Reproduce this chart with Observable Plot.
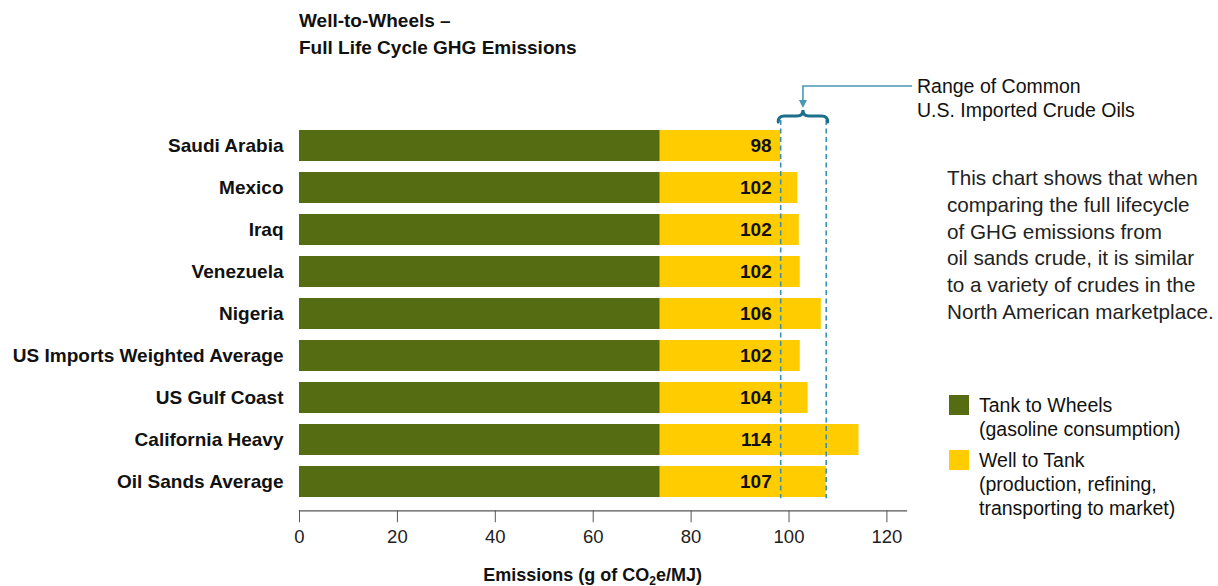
<!DOCTYPE html>
<html>
<head>
<meta charset="utf-8">
<script src="https://cdn.jsdelivr.net/npm/d3@7"></script>
<script src="https://cdn.jsdelivr.net/npm/@observablehq/plot@0.6"></script>
<style>
  html, body { margin: 0; padding: 0; background: #fff; }
  #chart { width: 1218px; height: 586px; }
  svg text { font-family: "Liberation Sans", Arial, Helvetica, sans-serif; }
</style>
</head>
<body>
<div id="chart"></div>
<script>
// ---- data ----
const categories = ["Saudi Arabia", "Mexico", "Iraq", "Venezuela", "Nigeria",
  "US Imports Weighted Average", "US Gulf Coast", "California Heavy", "Oil Sands Average"];
const tankToWheels = [73.7, 73.7, 73.7, 73.7, 73.7, 73.7, 73.7, 73.7, 73.7];
const totals = [98.3, 101.8, 102.1, 102.3, 106.6, 102.3, 103.9, 114.3, 107.6];
const totalLabels = ["98", "102", "102", "102", "106", "102", "104", "114", "107"];
const segments = ["Tank to Wheels", "Well to Tank"];
const segmentNotes = ["(gasoline consumption)", "(production, refining,|transporting to market)"];
const segmentColors = ["#566c13", "#ffcc00"];
const rangeBounds = [98.3, 107.6];
const xTicks = [0, 20, 40, 60, 80, 100, 120];
const titleLines = ["Well-to-Wheels –", "Full Life Cycle GHG Emissions"];
const rangeNote = ["Range of Common", "U.S. Imported Crude Oils"];
const paragraph = ["This chart shows that when", "comparing the full lifecycle",
  "of GHG emissions from", "oil sands crude, it is similar",
  "to a variety of crudes in the", "North American marketplace."];

// ---- table for the library ----
const rows = [];
categories.forEach((c, i) => {
  rows.push({category: c, segment: segments[0], value: tankToWheels[i]});
  rows.push({category: c, segment: segments[1], value: totals[i] - tankToWheels[i]});
});
const labels = categories.map((c, i) => ({category: c, label: totalLabels[i]}));

const W = 1218, H = 586;
const svg = Plot.plot({
  width: W, height: H,
  marginLeft: 299, marginRight: 312, marginTop: 116, marginBottom: 75.7,
  style: {fontFamily: "'Liberation Sans', Arial, sans-serif", background: "transparent", overflow: "visible"},
  x: {domain: [0, 124]},
  y: {domain: categories, range: [122.3, 503.7], paddingInner: 0.268, paddingOuter: 0.134},
  color: {domain: segments, range: segmentColors},
  marks: [
    Plot.barX(rows, {x: "value", y: "category", fill: "segment"}),
    Plot.ruleX(rangeBounds, {stroke: "#3b8fb0", strokeWidth: 1.6, strokeDasharray: "5,3.5", insetTop: 4, insetBottom: 12}),
    Plot.text(labels, {x: () => rangeBounds[0], y: "category", text: "label", dx: -9, textAnchor: "end",
      fontSize: 19, fontWeight: "bold", fill: "#111"}),
    Plot.axisY({tickSize: 0, tickPadding: 16, fontSize: 19, fontWeight: "bold", fill: "#111", label: null}),
    Plot.axisX({ticks: xTicks, tickSize: 12, tickPadding: 7, fontSize: 18.5, stroke: "#555", fill: "#222", label: null}),
    Plot.frame({anchor: "bottom", stroke: "#555", strokeWidth: 1.3})
  ]
});
document.getElementById("chart").appendChild(svg);

// ---- annotations using the library's scales ----
const xs = svg.scale("x");
const X = v => xs.apply(v);
const g = d3.select(svg).append("g").attr("text-anchor", "start");
const font = "'Liberation Sans', Arial, sans-serif";
const addText = (x, y, size, weight, fill, t) =>
  g.append("text").attr("x", x).attr("y", y).attr("font-size", size).attr("font-weight", weight)
    .attr("fill", fill).attr("font-family", font).attr("text-anchor", "start").text(t);

// title
titleLines.forEach((t, i) => addText(X(0), 27 + i * 27, 19, "bold", "#111", t));

// brace over the range
const bx0 = X(rangeBounds[0]) - 2, bx1 = X(rangeBounds[1]) + 2, mid = (X(rangeBounds[0]) + X(rangeBounds[1])) / 2, yb = 116;
g.append("path")
  .attr("d", `M${bx0},${yb + 6} Q${bx0},${yb} ${bx0 + 6},${yb} L${mid - 6},${yb} Q${mid},${yb} ${mid},${yb - 6} Q${mid},${yb} ${mid + 6},${yb} L${bx1 - 6},${yb} Q${bx1},${yb} ${bx1},${yb + 6}`)
  .attr("fill", "none").attr("stroke", "#1d6f8c").attr("stroke-width", 3).attr("stroke-linecap", "round");

// leader arrow
g.append("path").attr("d", `M912,86 L${mid},86 L${mid},102`)
  .attr("fill", "none").attr("stroke", "#4a98b4").attr("stroke-width", 1.6);
g.append("path").attr("d", `M${mid - 4},100 L${mid + 4},100 L${mid},108 Z`).attr("fill", "#4a98b4");

rangeNote.forEach((t, i) => addText(917, 93 + i * 24, 19.5, "normal", "#111", t));

// paragraph
paragraph.forEach((t, i) => addText(947, 185 + i * 26.8, 20.7, "normal", "#222", t));

// legend
const cs = svg.scale("color");
const legendTop = [395, 450];
segments.forEach((s, i) => {
  g.append("rect").attr("x", 949).attr("y", legendTop[i]).attr("width", 20).attr("height", 20)
    .attr("fill", cs.apply(s));
  const lines = [s, ...segmentNotes[i].split("|")];
  lines.forEach((t, j) => addText(979, legendTop[i] + 17 + j * 24, 19.5, "normal", "#111", t));
});

// x-axis label with subscript
const lbl = g.append("text").attr("x", X(60)).attr("y", 581).attr("text-anchor", "middle")
  .attr("font-size", 18).attr("font-weight", "bold").attr("fill", "#111").attr("font-family", font);
lbl.append("tspan").text("Emissions (g of CO");
lbl.append("tspan").attr("font-size", 12).attr("dy", 4).text("2");
lbl.append("tspan").attr("dy", -4).text("e/MJ)");
</script>
</body>
</html>
